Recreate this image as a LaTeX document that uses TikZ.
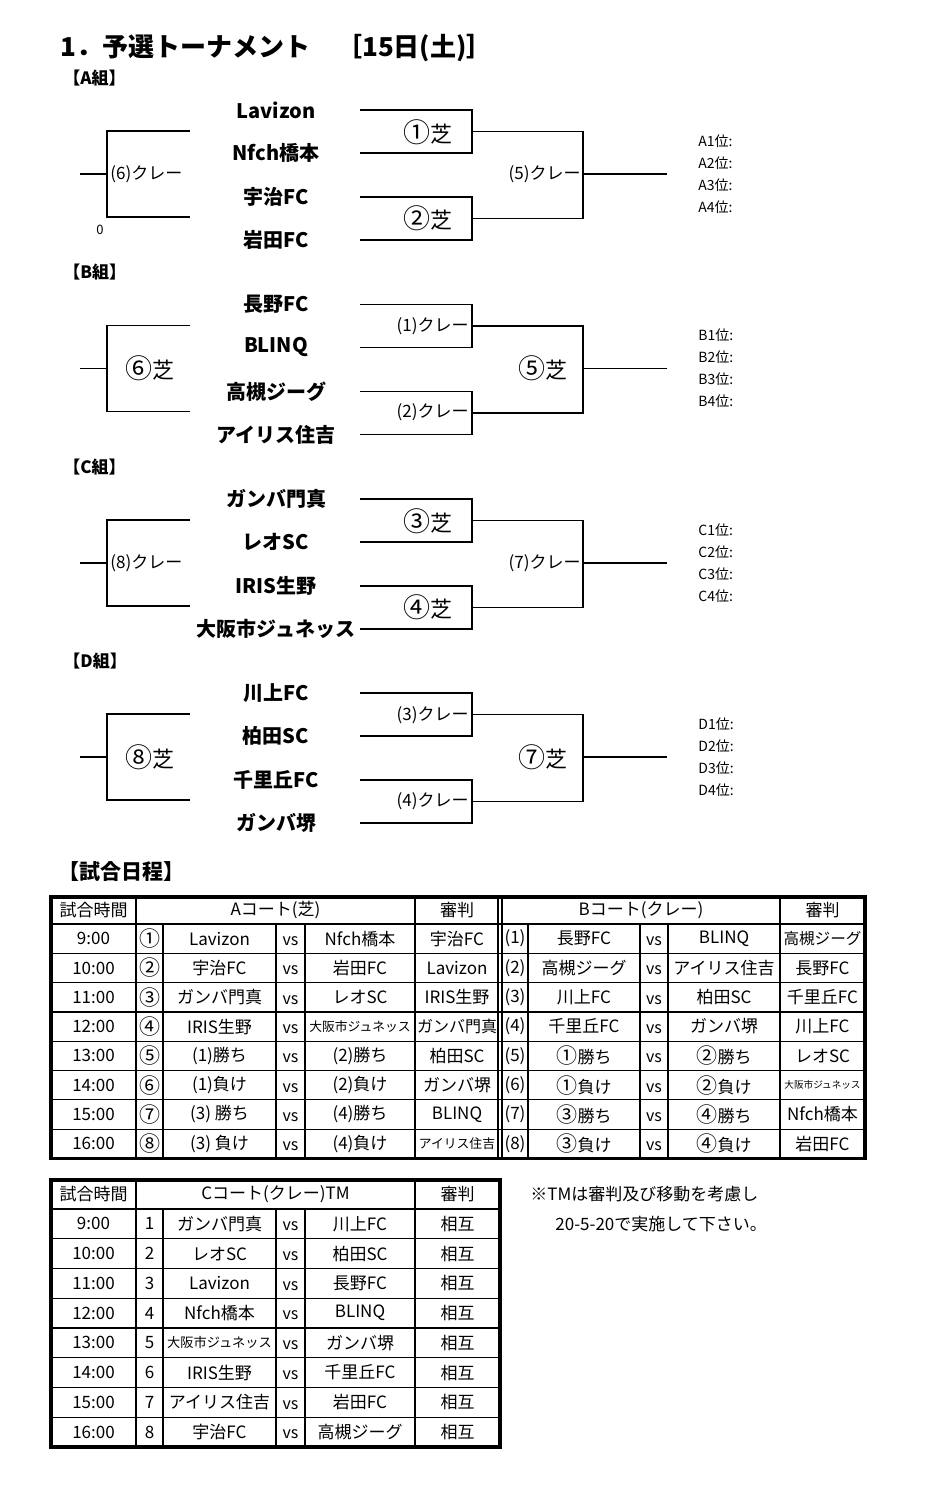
\documentclass[tikz,border=0pt]{standalone}
\usepackage{fontspec}
\setmainfont{Noto Sans CJK JP}
\newcommand\myfs[1]{\fontsize{#1}{#1}\selectfont}
\newcommand\cbig[1]{{\fontsize{13.5}{13.5}\selectfont #1}}
\newcommand\csml[1]{{\fontsize{10.5}{10.5}\selectfont #1}}
\tikzset{
  brk/.style={line width=0.75pt},
  team/.style={font=\myfs{10}\bfseries, inner sep=0pt},
  grphdr/.style={font=\myfs{8.5}\bfseries, anchor=west, inner sep=0pt},
  clay/.style={font=\myfs{8.5}, inner sep=0pt},
  turf/.style={font=\myfs{11}, inner sep=0pt},
  place/.style={font=\myfs{7}, anchor=west, inner sep=0pt},
  cell/.style={font=\myfs{8.5}, inner sep=0pt},
  vscell/.style={font=\myfs{8}, inner sep=0pt},
  thinl/.style={line width=0.6pt},
  frame/.style={line width=1.6pt},
}
\newcommand\bracketlines{
  \draw[brk] (190,131) -- (107,131) -- (107,217) -- (190,217);
  \draw[brk] (80,174) -- (107,174);
  \draw[brk] (360,110) -- (472,110) -- (472,153) -- (360,153);
  \draw[brk] (360,197) -- (472,197) -- (472,240) -- (360,240);
  \draw[brk] (472,131.5) -- (583,131.5) -- (583,218.5) -- (472,218.5);
  \draw[brk] (583,174) -- (667,174);
}
\begin{document}
\begin{tikzpicture}[x=0.5pt,y=-0.5pt]
\fill[white] (0,0) rectangle (938,1508);
\path[use as bounding box] (0,0) rectangle (938,1508);

\node[anchor=west, font=\myfs{13}\bfseries, inner sep=0pt] (title) at (60,48) {1．予選トーナメント　［15日(土)］};

% ---------- Group A
\node[grphdr] (hA) at (63,78) {【A組】};
\bracketlines
\node[team] (A1) at (276,110) {Lavizon};
\node[team] (A2) at (276,153) {Nfch橋本};
\node[team] (A3) at (276,197) {宇治FC};
\node[team] (A4) at (276,240) {岩田FC};
\node[clay, anchor=west] (AL) at (110,174) {(6)クレー};
\node[turf, anchor=east] (AM1) at (453,132) {\cbig{①}芝};
\node[turf, anchor=east] (AM2) at (453,218) {\cbig{②}芝};
\node[clay, anchor=east] (AF) at (581,174) {(5)クレー};
\node[font=\myfs{6.5}, inner sep=0pt] (zero) at (100,230) {0};
\foreach \k in {1,...,4} \node[place] (Ap\k) at (698,{119+22*\k}) {A\k 位:};

% ---------- Group B
\begin{scope}[shift={(0,194.4)}]
\node[grphdr] (hB) at (63,78) {【B組】};
\bracketlines
\node[team] (B1) at (276,110) {長野FC};
\node[team] (B2) at (276,153) {BLINQ};
\node[team] (B3) at (276,197) {高槻ジーグ};
\node[team] (B4) at (276,240) {アイリス住吉};
\node[turf] (BL) at (150,174) {\cbig{⑥}芝};
\node[clay, anchor=east] (BM1) at (469,132) {(1)クレー};
\node[clay, anchor=east] (BM2) at (469,218) {(2)クレー};
\node[turf] (BF) at (543,174) {\cbig{⑤}芝};
\foreach \k in {1,...,4} \node[place] (Bp\k) at (698,{119+22*\k}) {B\k 位:};
\end{scope}

% ---------- Group C
\begin{scope}[shift={(0,388.8)}]
\node[grphdr] (hC) at (63,78) {【C組】};
\bracketlines
\node[team] (C1) at (276,110) {ガンバ門真};
\node[team] (C2) at (276,153) {レオSC};
\node[team] (C3) at (276,197) {IRIS生野};
\node[team] (C4) at (276,240) {大阪市ジュネッス};
\node[clay, anchor=west] (CL) at (110,174) {(8)クレー};
\node[turf, anchor=east] (CM1) at (453,132) {\cbig{③}芝};
\node[turf, anchor=east] (CM2) at (453,218) {\cbig{④}芝};
\node[clay, anchor=east] (CF) at (581,174) {(7)クレー};
\foreach \k in {1,...,4} \node[place] (Cp\k) at (698,{119+22*\k}) {C\k 位:};
\end{scope}

% ---------- Group D
\begin{scope}[shift={(0,583.2)}]
\node[grphdr] (hD) at (63,78) {【D組】};
\bracketlines
\node[team] (D1) at (276,110) {川上FC};
\node[team] (D2) at (276,153) {柏田SC};
\node[team] (D3) at (276,197) {千里丘FC};
\node[team] (D4) at (276,240) {ガンバ堺};
\node[turf] (DL) at (150,174) {\cbig{⑧}芝};
\node[clay, anchor=east] (DM1) at (469,132) {(3)クレー};
\node[clay, anchor=east] (DM2) at (469,218) {(4)クレー};
\node[turf] (DF) at (543,174) {\cbig{⑦}芝};
\foreach \k in {1,...,4} \node[place] (Dp\k) at (698,{119+22*\k}) {D\k 位:};
\end{scope}

% ---------- Schedule
\node[anchor=west, font=\myfs{10.5}\bfseries, inner sep=0pt] (sched) at (58,872) {【試合日程】};

% Table 1
\draw[thinl] (51,924) -- (865,924);
\foreach \k in {1,...,7} \draw[thinl] (51,{924+29.3*\k}) -- (865,{924+29.3*\k});
\foreach \x in {136,415,498,502,780} \draw[thinl] (\x,897) -- (\x,1158.4);
\foreach \x in {163,276,305,528,640,668} \draw[thinl] (\x,924) -- (\x,1158.4);
\draw[frame] (51,897) rectangle (865,1158.4);
\node[cell] (h1a) at (93.5,910.5) {試合時間};
\node[cell] (h1b) at (275.5,910.5) {Aコート(芝)};
\node[cell] (h1c) at (457,910.5) {審判};
\node[cell] (h1d) at (641,910.5) {Bコート(クレー)};
\node[cell] (h1e) at (822.5,910.5) {審判};
\foreach [count=\i] \tm/\n/\a/\b/\r/\nb/\c/\d/\rb in {
  9:00/①/Lavizon/Nfch橋本/宇治FC/(1)/長野FC/BLINQ/{\myfs{7.8}高槻ジーグ},
  10:00/②/宇治FC/岩田FC/Lavizon/(2)/高槻ジーグ/アイリス住吉/長野FC,
  11:00/③/ガンバ門真/レオSC/IRIS生野/(3)/川上FC/柏田SC/千里丘FC,
  12:00/④/IRIS生野/{\myfs{6.4}大阪市ジュネッス}/{\myfs{8}ガンバ門真}/(4)/千里丘FC/ガンバ堺/川上FC,
  13:00/⑤/(1)勝ち/(2)勝ち/柏田SC/(5)/\csml{①}勝ち/\csml{②}勝ち/レオSC,
  14:00/⑥/(1)負け/(2)負け/ガンバ堺/(6)/\csml{①}負け/\csml{②}負け/{\myfs{4.8}大阪市ジュネッス},
  15:00/⑦/(3) 勝ち/(4)勝ち/BLINQ/(7)/\csml{③}勝ち/\csml{④}勝ち/Nfch橋本,
  16:00/⑧/(3) 負け/(4)負け/{\myfs{6.4}アイリス住吉}/(8)/\csml{③}負け/\csml{④}負け/岩田FC}{
  \pgfmathsetmacro\yy{924+29.3*(\i-0.5)}
  \node[cell] (t\i a) at (93.5,\yy) {\tm};
  \node[cell] (t\i b) at (149.5,\yy) {\csml{\n}};
  \node[cell] (t\i c) at (219.5,\yy) {\a};
  \node[vscell] (t\i d) at (290.5,\yy+2.5) {vs};
  \node[cell] (t\i e) at (360,\yy) {\b};
  \node[cell] (t\i f) at (457,\yy) {\r};
  \node[cell] (t\i g) at (515,\yy) {\nb};
  \node[cell] (t\i h) at (584,\yy) {\c};
  \node[vscell] (t\i i) at (654,\yy+2.5) {vs};
  \node[cell] (t\i j) at (724,\yy) {\d};
  \node[cell] (t\i k) at (822.5,\yy) {\rb};
}

% Table 2
\draw[thinl] (51,1209) -- (500,1209);
\foreach \k in {1,...,7} \draw[thinl] (51,{1209+29.75*\k}) -- (500,{1209+29.75*\k});
\foreach \x in {136,415} \draw[thinl] (\x,1180) -- (\x,1447);
\foreach \x in {163,276,305} \draw[thinl] (\x,1209) -- (\x,1447);
\draw[frame] (51,1180) rectangle (500,1447);
\node[cell] (h2a) at (93.5,1194.5) {試合時間};
\node[cell] (h2b) at (275.5,1194.5) {Cコート(クレー)TM};
\node[cell] (h2c) at (457.5,1194.5) {審判};
\foreach [count=\i] \tm/\a/\b in {
  9:00/ガンバ門真/川上FC,
  10:00/レオSC/柏田SC,
  11:00/Lavizon/長野FC,
  12:00/Nfch橋本/BLINQ,
  13:00/{\myfs{6.6}大阪市ジュネッス}/ガンバ堺,
  14:00/IRIS生野/千里丘FC,
  15:00/アイリス住吉/岩田FC,
  16:00/宇治FC/高槻ジーグ}{
  \pgfmathsetmacro\yy{1209+29.75*(\i-0.5)}
  \node[cell] (u\i a) at (93.5,\yy) {\tm};
  \node[cell] (u\i b) at (149.5,\yy) {\i};
  \node[cell] (u\i c) at (219.5,\yy) {\a};
  \node[vscell] (u\i d) at (290.5,\yy+2.5) {vs};
  \node[cell] (u\i e) at (360,\yy) {\b};
  \node[cell] (u\i f) at (457.5,\yy) {相互};
}
\node[anchor=west, font=\myfs{8.5}, inner sep=0pt] (note1) at (530,1194) {※TMは審判及び移動を考慮し};
\node[anchor=west, font=\myfs{8.5}, inner sep=0pt] (note2) at (555,1224) {20-5-20で実施して下さい。};
\end{tikzpicture}
\end{document}
